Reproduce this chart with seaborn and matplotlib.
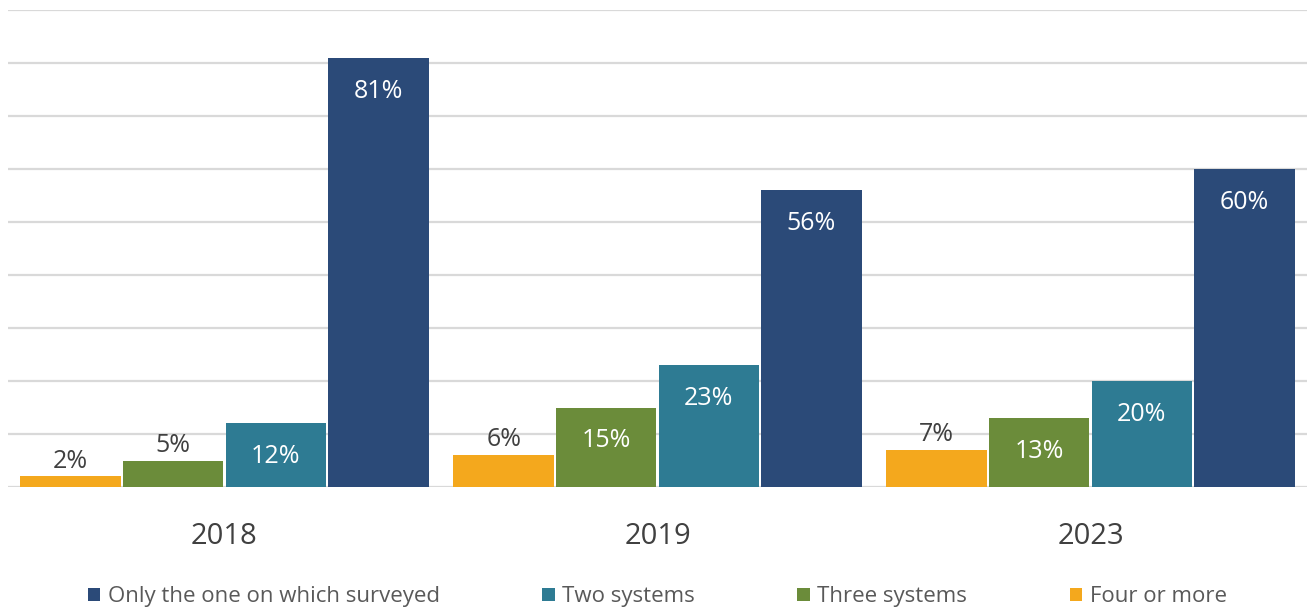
import matplotlib
matplotlib.use("Agg")
import matplotlib.pyplot as plt
import seaborn as sns
import pandas as pd
from matplotlib.patches import Patch

years = ["2018", "2019", "2023"]
series = ["Four or more", "Three systems", "Two systems", "Only the one on which surveyed"]
four_or_more = [2, 6, 7]
three_systems = [5, 15, 13]
two_systems = [12, 23, 20]
only_one = [81, 56, 60]
colors = ["#F4A81D", "#6B8C3A", "#2E7B93", "#2B4A78"]

rows = []
for name, vals in zip(series, [four_or_more, three_systems, two_systems, only_one]):
    for y, v in zip(years, vals):
        rows.append({"year": y, "series": name, "value": v})
df = pd.DataFrame(rows)

sns.set_theme(style="white")
plt.rcParams["font.family"] = ["Open Sans", "DejaVu Sans"]

fig = plt.figure(figsize=(13.07, 6.10), dpi=100)
ax = fig.add_axes([8 / 1307, (610 - 487) / 610, 1 - 8 / 1307, (487 - 10) / 610])

sns.barplot(data=df, x="year", y="value", hue="series", hue_order=series,
            palette=colors, width=0.947, gap=0.02, ax=ax, legend=False,
            saturation=1, linewidth=0)

ax.set_ylim(0, 90)
ax.set_yticks(range(0, 91, 10))
ax.yaxis.grid(True, color="#D9D9D9", linewidth=1.6)
ax.set_axisbelow(True)
ax.set_yticklabels([])
ax.tick_params(axis="y", length=0)
ax.tick_params(axis="x", length=0, pad=25, labelsize=21, labelcolor="#404040")
ax.set_xlabel("")
ax.set_ylabel("")
for s in ax.spines.values():
    s.set_visible(False)

for cont in ax.containers:
    for bar in cont:
        h = bar.get_height()
        xc = bar.get_x() + bar.get_width() / 2
        if h >= 10:
            ax.annotate(f"{h:.0f}%", (xc, h), xytext=(0, -24), textcoords="offset points",
                        ha="center", va="center", color="white", fontsize=18)
        else:
            ax.annotate(f"{h:.0f}%", (xc, h), xytext=(0, 11), textcoords="offset points",
                        ha="center", va="center", color="#404040", fontsize=18)

handles = [Patch(facecolor=c, edgecolor="none") for c in colors]
order = [3, 2, 1, 0]
fig.legend([handles[i] for i in order], [series[i] for i in order],
           loc="center", bbox_to_anchor=(0.503, 0.022), ncol=4, frameon=False,
           fontsize=16, handlelength=0.55, handleheight=0.55, handletextpad=0.35,
           columnspacing=4.6, labelcolor="#595959")

fig.savefig("out.png", dpi=100)
